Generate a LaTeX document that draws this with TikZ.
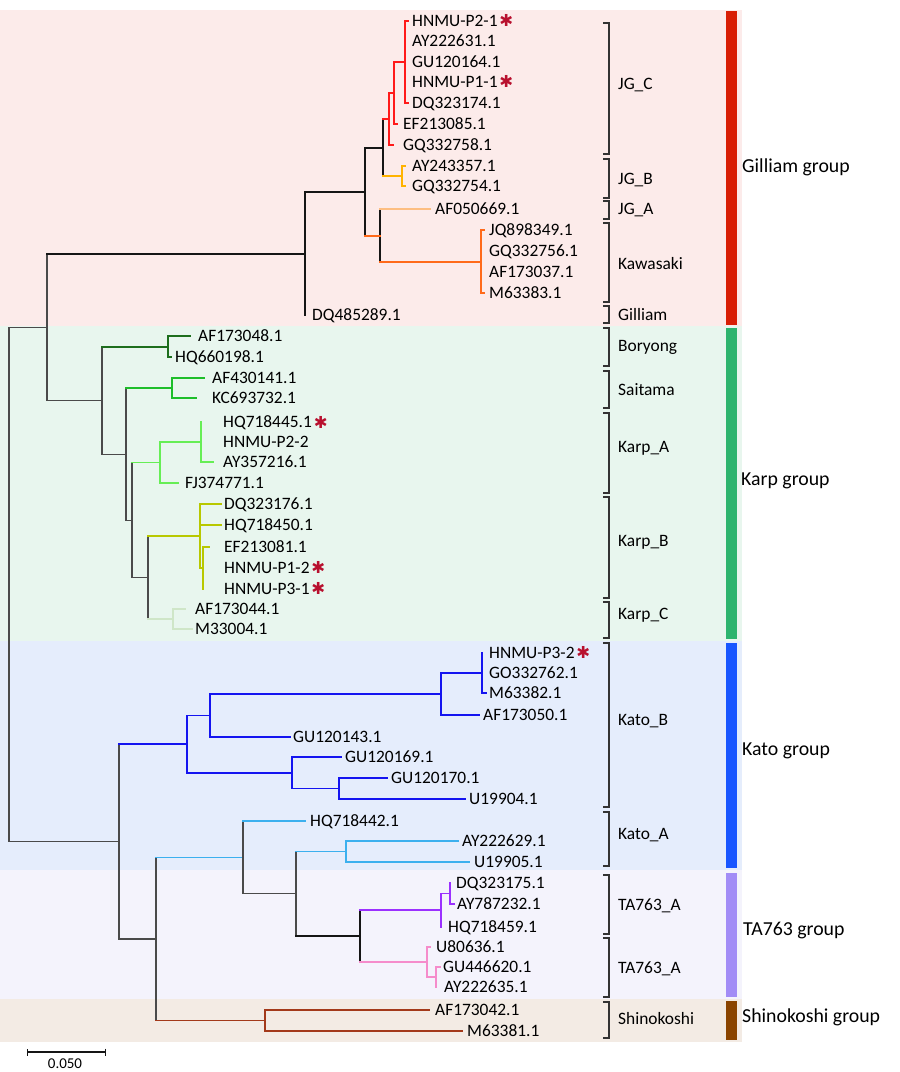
\documentclass[tikz,border=0pt]{standalone}
\usepackage{fontspec}
\setmainfont{Carlito}
\newfontfamily\symfont{DejaVu Sans}
\usetikzlibrary{arrows.meta}
\definecolor{bgPink}{HTML}{FCEBEA}
\definecolor{bgGreen}{HTML}{E8F6EE}
\definecolor{bgBlue}{HTML}{E5EDFC}
\definecolor{bgLav}{HTML}{F4F3FC}
\definecolor{bgBeige}{HTML}{F3EBE4}
\definecolor{barRed}{HTML}{D81E05}
\definecolor{barGreen}{HTML}{2DB46E}
\definecolor{barBlue}{HTML}{1956FF}
\definecolor{barLav}{HTML}{A28CF6}
\definecolor{barBrown}{HTML}{8A4400}
\definecolor{treeblack}{HTML}{151515}
\definecolor{treegray}{HTML}{4A4A4A}
\definecolor{colJGC}{HTML}{FF1A1A}
\definecolor{colJGB}{HTML}{FFB300}
\definecolor{colJGA}{HTML}{FDBE82}
\definecolor{colKaw}{HTML}{FF6A1A}
\definecolor{colBor}{HTML}{1D6E1D}
\definecolor{colSai}{HTML}{1DBE2A}
\definecolor{colKA}{HTML}{66EE55}
\definecolor{colKB}{HTML}{B8C800}
\definecolor{colKC}{HTML}{CFE6C8}
\definecolor{colKtB}{HTML}{1414F0}
\definecolor{colKtA}{HTML}{3CB0EE}
\definecolor{colTAp}{HTML}{9B30FF}
\definecolor{colTAk}{HTML}{F58CCB}
\definecolor{colShi}{HTML}{A3391A}
\definecolor{astcol}{HTML}{B8102E}
\definecolor{brkcol}{HTML}{333333}
\newcommand\tleaf[5]{\coordinate (#1) at (#2,#3);\node[leaf] (L#1) at (#4,#3) {#5};}
\newcommand\tedge[3]{\draw[#1] (#2 |- #3) -- (#3);}
\newcommand\tvbar[4]{\draw[#1] (#2 |- #3) -- (#2 |- #4);}
\newcommand\tast[2]{\node[astk, anchor=west] (#1) at ([xshift=1.5pt,yshift=0.5pt]L#2.east) {✱};}
\newcommand\tbrk[5]{\draw[brk] (603,#1) -- (609,#1) -- (609,#2) -- (603,#2);\node[leaf] (#4) at (618,#3) {#5};}
\begin{document}
\begin{tikzpicture}[x=1pt,y=-1pt,
  leaf/.style={anchor=base west, inner sep=0pt, font=\fontsize{17.4}{20}\selectfont, yshift=-5.6pt},
  grp/.style={anchor=base west, inner sep=0pt, font=\fontsize{19.8}{22}\selectfont, yshift=-6.4pt},
  astk/.style={text=astcol, inner sep=0pt, font=\symfont\fontsize{16.5}{16.5}\selectfont},
  brk/.style={draw=brkcol, line width=1.1pt},
  tr/.style={line cap=rect, line width=1.7pt},
  blk/.style={tr, draw=treeblack, line width=1.9pt},
  gry/.style={tr, draw=treegray, line width=1.2pt},
  cJGC/.style={tr, draw=colJGC},
  cJGB/.style={tr, draw=colJGB},
  cJGA/.style={tr, draw=colJGA},
  cKaw/.style={tr, draw=colKaw},
  cBor/.style={tr, draw=colBor},
  cSai/.style={tr, draw=colSai},
  cKA/.style={tr, draw=colKA},
  cKB/.style={tr, draw=colKB},
  cKC/.style={tr, draw=colKC},
  cKtB/.style={tr, draw=colKtB, line width=1.9pt},
  cKtA/.style={tr, draw=colKtA},
  cTAp/.style={tr, draw=colTAp},
  cTAk/.style={tr, draw=colTAk},
  cShi/.style={tr, draw=colShi}]
\useasboundingbox (0,0) rectangle (900,1072);
% backgrounds
\fill[bgPink] (0,10) rectangle (742,326);
\fill[bgGreen] (0,326) rectangle (742,641);
\fill[bgBlue] (0,641) rectangle (742,870);
\fill[bgLav] (0,870) rectangle (742,999);
\fill[bgBeige] (0,999) rectangle (742,1042);
% group bars
\fill[barRed] (726,11) rectangle (737,325);
\fill[barGreen] (726,328) rectangle (737,639);
\fill[barBlue] (726,643) rectangle (737,868);
\fill[barLav] (726,873) rectangle (737,997);
\fill[barBrown] (726,1001) rectangle (737,1040);
\node[grp] (G1) at (742,166) {Gilliam group};
\node[grp] (G2) at (741,479) {Karp group};
\node[grp] (G3) at (742,749) {Kato group};
\node[grp] (G4) at (743,929) {TA763 group};
\node[grp] (G5) at (742,1016) {Shinokoshi group};
% brackets
\tbrk{23}{154}{84}{S1}{JG\_C}
\tbrk{159}{198}{179}{S2}{JG\_B}
\tbrk{201}{219}{209}{S3}{JG\_A}
\tbrk{223}{302}{264}{S4}{Kawasaki}
\tbrk{306}{323}{315}{S5}{Gilliam}
\tbrk{328}{366}{346}{S6}{Boryong}
\tbrk{371}{408}{390}{S7}{Saitama}
\tbrk{413}{493}{447}{S8}{Karp\_A}
\tbrk{497}{598}{541}{S9}{Karp\_B}
\tbrk{602}{638}{614}{S10}{Karp\_C}
\tbrk{643}{807}{720}{S11}{Kato\_B}
\tbrk{812}{866}{834}{S12}{Kato\_A}
\tbrk{875}{934}{905}{S13}{TA763\_A}
\tbrk{938}{997}{968}{S14}{TA763\_A}
\tbrk{1002}{1038}{1019}{S15}{Shinokoshi}
% ---------- Gilliam group ----------
\coordinate (g1) at (405,62);
\tleaf{a1}{408}{21}{412}{HNMU-P2-1}
\tleaf{a2}{405}{41}{412}{AY222631.1}
\tleaf{a3}{405}{62}{412}{GU120164.1}
\tleaf{a4}{405}{82}{412}{HNMU-P1-1}
\tleaf{a5}{408}{103}{412}{DQ323174.1}
\coordinate (g2) at (394,93);
\tleaf{a6}{397}{124}{403}{EF213085.1}
\coordinate (g3) at (389,119);
\tleaf{a7}{393}{145}{403}{GQ332758.1}
\coordinate (g5) at (402,176);
\tleaf{a8}{405}{166}{412}{AY243357.1}
\tleaf{a9}{405}{186}{412}{GQ332754.1}
\coordinate (g4) at (383,148);
\coordinate (g8) at (481,262);
\tleaf{a11}{484}{230}{489}{JQ898349.1}
\tleaf{a12}{481}{251}{489}{GQ332756.1}
\tleaf{a13}{481}{272}{489}{AF173037.1}
\tleaf{a14}{484}{293}{489}{M63383.1}
\tleaf{a10}{430}{209}{435}{AF050669.1}
\coordinate (g7) at (380,236);
\coordinate (g6) at (365,192);
\tleaf{a15}{305}{315}{312}{DQ485289.1}
\coordinate (g9) at (305,254);
\coordinate (g10) at (47,327.4);
\tast{x1}{a1}
\tast{x2}{a4}
\tvbar{cJGC}{g1}{a1}{a5}
\tedge{cJGC}{g1}{a1}\tedge{cJGC}{g1}{a5}
\tvbar{cJGC}{g2}{g1}{a6}
\tedge{cJGC}{g2}{g1}\tedge{cJGC}{g2}{a6}
\tvbar{cJGC}{g3}{g2}{a7}
\tedge{cJGC}{g3}{g2}\tedge{cJGC}{g3}{a7}
\tvbar{cJGB}{g5}{a8}{a9}
\tedge{cJGB}{g5}{a8}\tedge{cJGB}{g5}{a9}
\tvbar{blk}{g4}{g3}{g5}
\tedge{cJGC}{g4}{g3}\tedge{cJGB}{g4}{g5}
\tvbar{cKaw}{g8}{a11}{a14}
\tedge{cKaw}{g8}{a11}\tedge{cKaw}{g8}{a14}
\tvbar{blk}{g7}{a10}{g8}
\tedge{cJGA}{g7}{a10}\tedge{cKaw}{g7}{g8}
\tvbar{blk}{g6}{g4}{g7}
\tedge{blk}{g6}{g4}\tedge{cKaw}{g6}{g7}
\tvbar{blk}{g9}{g6}{a15}
\tedge{blk}{g9}{g6}\tedge{cJGC}{g9}{a15}
% ---------- Karp group ----------
\coordinate (k1) at (102,400.75);
\coordinate (kb) at (168,347);
\tleaf{b1}{190}{336}{198}{AF173048.1}
\tleaf{b2}{171}{357}{175}{HQ660198.1}
\coordinate (k2) at (126,454.5);
\coordinate (ks) at (172,388);
\tleaf{b3}{204}{378}{212}{AF430141.1}
\tleaf{b4}{196}{398}{212}{KC693732.1}
\coordinate (k3) at (132,520.25);
\coordinate (ka) at (160,462.5);
\coordinate (ka2) at (201,442);
\tleaf{b5}{201}{422}{223}{HQ718445.1}
\tleaf{b6}{201}{442}{223}{HNMU-P2-2}
\tleaf{b7}{213}{462}{223}{AY357216.1}
\tleaf{b8}{178}{483}{185}{FJ374771.1}
\coordinate (k4) at (148,577.5);
\coordinate (kkb) at (200,536);
\tleaf{b9}{221}{504}{224}{DQ323176.1}
\tleaf{b10}{221}{525}{224}{HQ718450.1}
\coordinate (kb2) at (203,568);
\tleaf{b11}{209}{547}{224}{EF213081.1}
\tleaf{b12}{203}{568}{224}{HNMU-P1-2}
\tleaf{b13}{203}{589}{224}{HNMU-P3-1}
\coordinate (kc) at (173,619);
\tleaf{b14}{185}{609}{195}{AF173044.1}
\tleaf{b15}{192}{629}{195}{M33004.1}
\tast{x3}{b5}
\tast{x4}{b12}
\tast{x5}{b13}
\tvbar{gry}{k1}{kb}{k2}
\tedge{cBor}{k1}{kb}\tedge{gry}{k1}{k2}
\tvbar{cBor}{kb}{b1}{b2}
\tedge{cBor}{kb}{b1}\tedge{cBor}{kb}{b2}
\tvbar{gry}{k2}{ks}{k3}
\tedge{cSai}{k2}{ks}\tedge{gry}{k2}{k3}
\tvbar{cSai}{ks}{b3}{b4}
\tedge{cSai}{ks}{b3}\tedge{cSai}{ks}{b4}
\tvbar{gry}{k3}{ka}{k4}
\tedge{cKA}{k3}{ka}\tedge{gry}{k3}{k4}
\tvbar{cKA}{ka}{ka2}{b8}
\tedge{cKA}{ka}{ka2}\tedge{cKA}{ka}{b8}
\tvbar{cKA}{ka2}{b5}{b7}
\tedge{cKA}{ka2}{b7}
\tvbar{gry}{k4}{kkb}{kc}
\tedge{cKB}{k4}{kkb}\tedge{cKC}{k4}{kc}
\tvbar{cKB}{kkb}{b9}{kb2}
\tedge{cKB}{kkb}{b9}\tedge{cKB}{kkb}{b10}\tedge{cKB}{kkb}{kb2}
\tvbar{cKB}{kb2}{b11}{b13}
\tedge{cKB}{kb2}{b11}
\tvbar{cKC}{kc}{b14}{b15}
\tedge{cKC}{kc}{b14}\tedge{cKC}{kc}{b15}
\tvbar{gry}{g10}{g9}{k1}
\tedge{blk}{g10}{g9}\tedge{gry}{g10}{k1}
% ---------- Kato / TA763 / Shinokoshi ----------
\coordinate (n119) at (119,841.5);
\coordinate (kB) at (187,744);
\coordinate (n210) at (210,715.5);
\coordinate (n441) at (441,694);
\coordinate (n482) at (482,673);
\tleaf{c1}{482}{653}{489}{HNMU-P3-2}
\tleaf{c2}{482}{673}{489}{GO332762.1}
\tleaf{c3}{486}{693}{489}{M63382.1}
\tleaf{c4}{479}{715}{483}{AF173050.1}
\tleaf{c5}{290}{737}{293}{GU120143.1}
\coordinate (n292) at (292,772.75);
\tleaf{c6}{341}{757}{345}{GU120169.1}
\coordinate (n339) at (339,788.5);
\tleaf{c7}{387}{778}{391}{GU120170.1}
\tleaf{c8}{465}{799}{469}{U19904.1}
\coordinate (n156) at (156,939);
\coordinate (n243) at (243,857.4);
\tleaf{c9}{305}{821}{310}{HQ718442.1}
\coordinate (n296) at (296,893.75);
\coordinate (n346) at (346,851.5);
\tleaf{c10}{458}{841}{462}{AY222629.1}
\tleaf{c11}{469}{862}{474}{U19905.1}
\coordinate (n360) at (360,936);
\coordinate (np) at (441,910.25);
\coordinate (np2) at (450,893.5);
\tleaf{d1}{450}{883}{456}{DQ323175.1}
\tleaf{d2}{454}{904}{457}{AY787232.1}
\tleaf{d3}{441}{927}{448}{HQ718459.1}
\coordinate (npk) at (427,962);
\tleaf{d4}{430}{947}{436}{U80636.1}
\coordinate (npk2) at (436,977);
\tleaf{d5}{440}{967}{443}{GU446620.1}
\tleaf{d6}{436}{987}{444}{AY222635.1}
\coordinate (sh) at (265,1020.5);
\tleaf{e1}{429}{1010}{435}{AF173042.1}
\tleaf{e2}{462}{1031}{467}{M63381.1}
\tast{x6}{c1}
\tvbar{gry}{n119}{kB}{n156}
\tedge{cKtB}{n119}{kB}\tedge{gry}{n119}{n156}
\tvbar{cKtB}{kB}{n210}{n292}
\tedge{cKtB}{kB}{n210}\tedge{cKtB}{kB}{n292}
\tvbar{cKtB}{n210}{n441}{c5}
\tedge{cKtB}{n210}{n441}\tedge{cKtB}{n210}{c5}
\tvbar{cKtB}{n441}{n482}{c4}
\tedge{cKtB}{n441}{n482}\tedge{cKtB}{n441}{c4}
\tvbar{cKtB}{n482}{c1}{c3}
\tedge{cKtB}{n482}{c3}
\tvbar{cKtB}{n292}{c6}{n339}
\tedge{cKtB}{n292}{c6}\tedge{cKtB}{n292}{n339}
\tvbar{cKtB}{n339}{c7}{c8}
\tedge{cKtB}{n339}{c7}\tedge{cKtB}{n339}{c8}
\tvbar{gry}{n156}{n243}{sh}
\tedge{cKtA}{n156}{n243}\tedge{cShi}{n156}{sh}
\tvbar{gry}{n243}{c9}{n296}
\tedge{cKtA}{n243}{c9}\tedge{gry}{n243}{n296}
\tvbar{gry}{n296}{n346}{n360}
\tedge{cKtA}{n296}{n346}\tedge{blk}{n296}{n360}
\tvbar{cKtA}{n346}{c10}{c11}
\tedge{cKtA}{n346}{c10}\tedge{cKtA}{n346}{c11}
\tvbar{blk}{n360}{np}{npk}
\tedge{cTAp}{n360}{np}\tedge{cTAk}{n360}{npk}
\tvbar{cTAp}{np}{np2}{d3}
\tedge{cTAp}{np}{np2}
\tvbar{cTAp}{np2}{d1}{d2}
\tedge{cTAp}{np2}{d2}
\tvbar{cTAk}{npk}{d4}{npk2}
\tedge{cTAk}{npk}{d4}\tedge{cTAk}{npk}{npk2}
\tvbar{cTAk}{npk2}{d5}{d6}
\tedge{cTAk}{npk2}{d5}
\tvbar{cShi}{sh}{e1}{e2}
\tedge{cShi}{sh}{e1}\tedge{cShi}{sh}{e2}
% root
\coordinate (r) at (9,584.5);
\tvbar{gry}{r}{g10}{n119}
\tedge{gry}{r}{g10}\tedge{gry}{r}{n119}
% scale bar
\coordinate (sb1) at (27,1052);
\coordinate (sb2) at (106,1052);
\draw[line width=1.2pt, draw=treeblack, {Bar[width=7pt]}-{Bar[width=7pt]}] (sb1) -- (sb2);
\node[inner sep=0pt, font=\fontsize{15}{15}\selectfont] (sblab) at (65,1064) {0.050};
\end{tikzpicture}
\end{document}
